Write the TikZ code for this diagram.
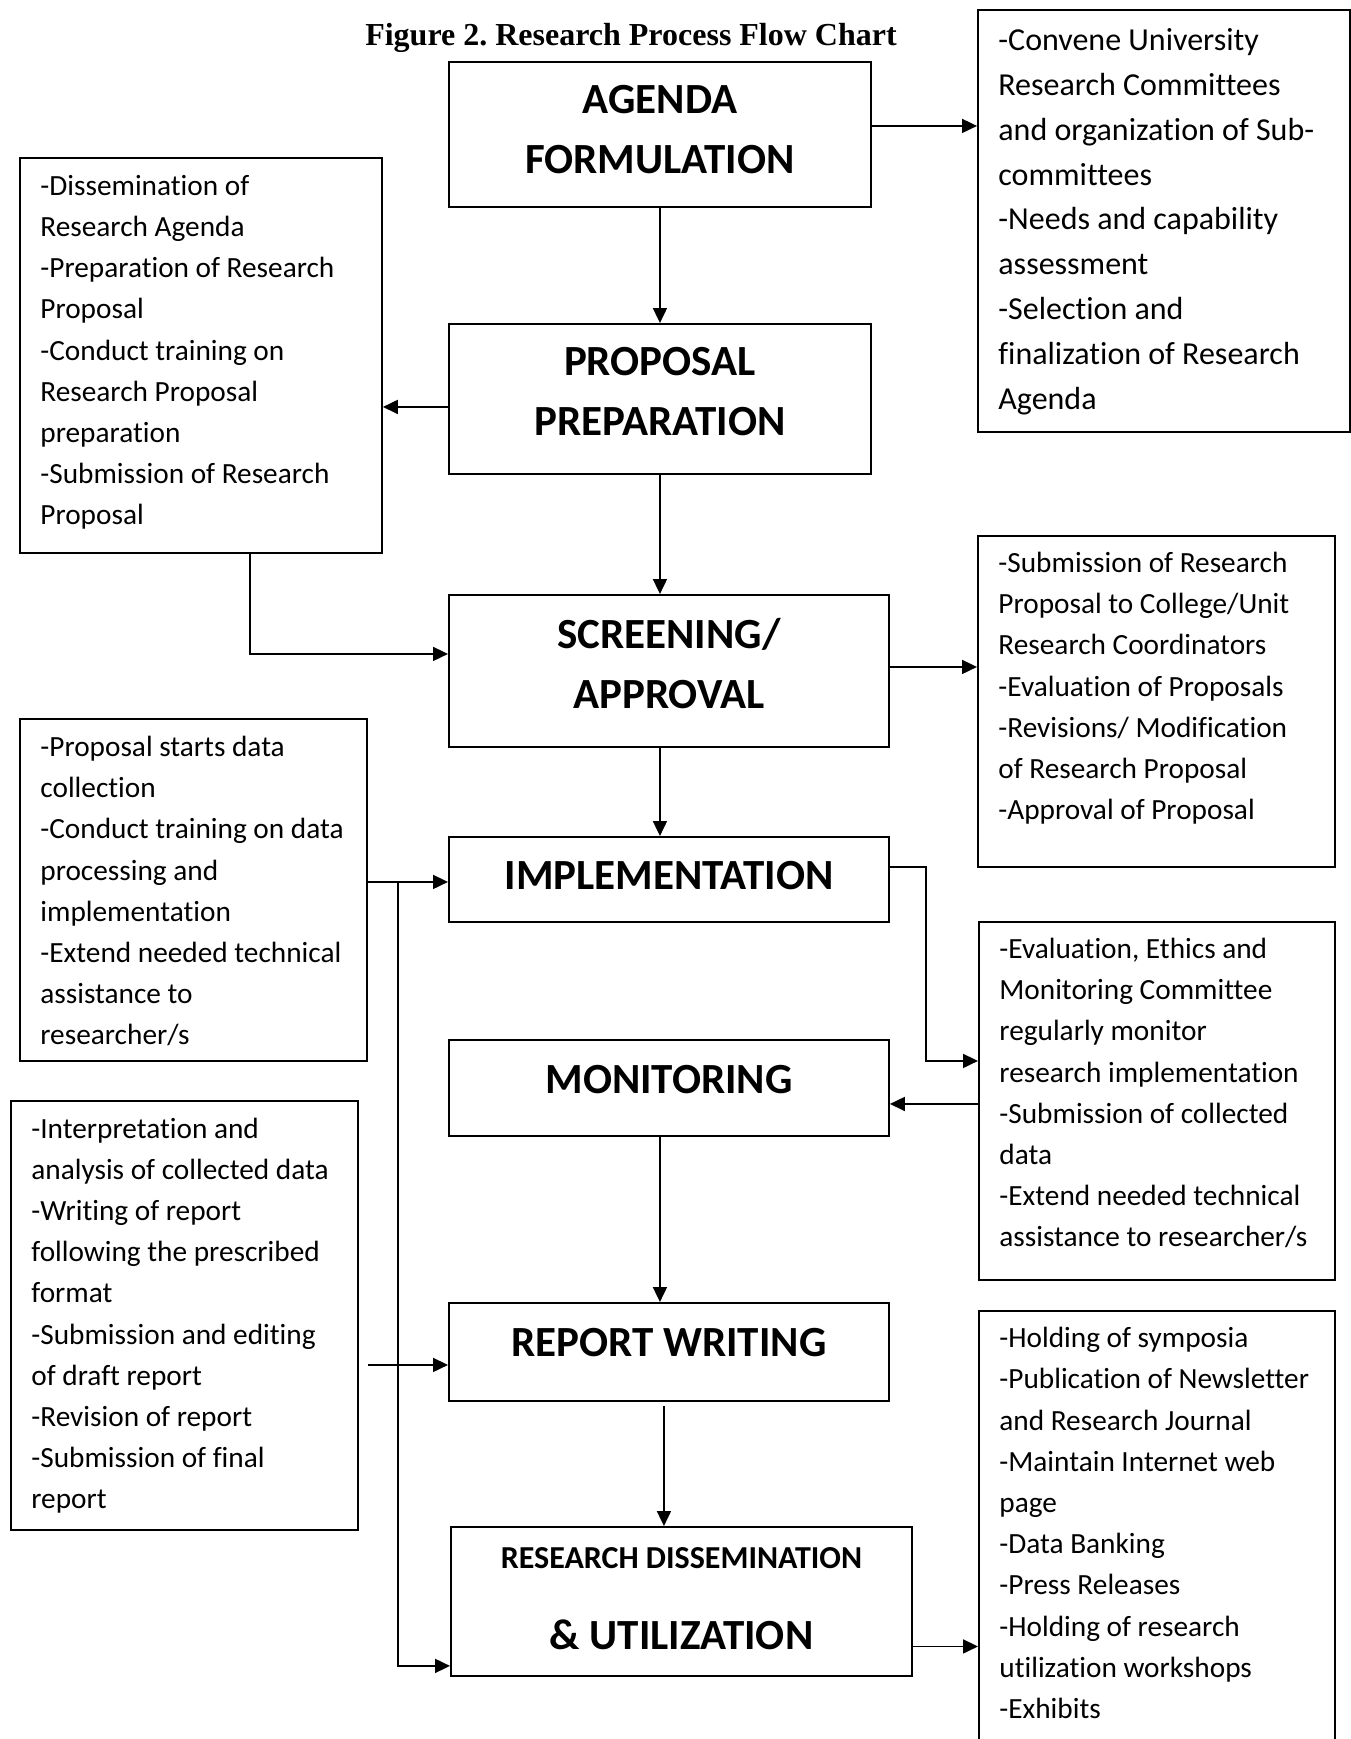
\documentclass[tikz,border=0pt]{standalone}
\usepackage{fontspec}
\setmainfont{Carlito}[Ligatures={NoCommon,NoRare}]
\newfontfamily\titlefont{Liberation Serif}
\usetikzlibrary{arrows.meta}
\newcommand{\lowpad}[1]{\rule[-#1pt]{0pt}{#1pt}}
\frenchspacing
\tikzset{
  every picture/.style={line width=1.8pt},
  stage/.style={draw, line width=1.9pt, align=center, inner sep=0pt, anchor=north west,
                font=\bfseries\fontsize{43}{60}\selectfont},
  side/.style={draw, line width=1.9pt, inner sep=0pt, anchor=north west},
  sidetext/.style={align=left, inner sep=0pt, anchor=north west},
  arrow/.style={-{Triangle[length=15pt, width=14pt]}, line width=1.8pt},
  title/.style={font=\titlefont\bfseries\fontsize{32}{38}\selectfont},
}

\begin{document}
\begin{tikzpicture}[x=1pt, y=-1pt]
  \useasboundingbox (0,0) rectangle (1351,1739);
  \clip (0,0) rectangle (1351,1739);
  \node[title] (title) at (631,38) {Figure 2. Research Process Flow Chart};
  % stages down the middle: name, corner, size, padding under the text
  \foreach \name/\x/\y/\w/\h/\pad/\txt in {
      agd/448/61/422/145/10/{AGENDA\\FORMULATION},
      prp/448/323/422/150/15/{PROPOSAL\\PREPARATION},
      scr/448/594/440/152/16/{SCREENING/\\APPROVAL},
      imp/448/836/440/85/9/{IMPLEMENTATION},
      mon/448/1039/440/96/18/{MONITORING},
      rep/448/1302/440/98/20/{REPORT WRITING},
      rdu/450/1526/461/149/6/{{\fontsize{32}{60}\selectfont RESEARCH DISSEMINATION}\\[21pt]\& UTILIZATION}} {
    \node[stage, minimum width=\w pt, minimum height=\h pt] (\name) at (\x,\y) {\txt\lowpad{\pad}};
  }
  % notes beside each stage
  \foreach \name/\x/\y/\w/\h/\fs/\ls/\dy/\txt in {
      agdnote/977/9/372/422/32/44.8/14.5/{-Convene University\\Research Committees\\and organization of Sub-\\committees\\-Needs and capability\\assessment\\-Selection and\\finalization of Research\\Agenda},
      prpnote/19/157/362/395/29.3/41.2/13.3/{-Dissemination of\\Research Agenda\\-Preparation of Research\\Proposal\\-Conduct training on\\Research Proposal\\preparation\\-Submission of Research\\Proposal},
      scrnote/977/535/357/331/29.3/41.2/12.5/{-Submission of Research\\Proposal to College/Unit\\Research Coordinators\\-Evaluation of Proposals\\-Revisions/ Modification\\of Research Proposal\\-Approval of Proposal},
      impnote/19/718/347/342/29.3/41.2/13.6/{-Proposal starts data\\collection\\-Conduct training on data\\processing and\\implementation\\-Extend needed technical\\assistance to\\researcher/s},
      monnote/978/921/356/358/29.3/41.2/12.5/{-Evaluation, Ethics and\\Monitoring Committee\\regularly monitor\\research implementation\\-Submission of collected\\data\\-Extend needed technical\\assistance to researcher/s},
      repnote/10/1100/347/429/29.3/41.2/13.2/{-Interpretation and\\analysis of collected data\\-Writing of report\\following the prescribed\\format\\-Submission and editing\\of draft report\\-Revision of report\\-Submission of final\\report},
      rdunote/978/1310/356/460/29.3/41.2/12.8/{-Holding of symposia\\-Publication of Newsletter\\and Research Journal\\-Maintain Internet web\\page\\-Data Banking\\-Press Releases\\-Holding of research\\utilization workshops\\-Exhibits}} {
    \node[side, minimum width=\w pt, minimum height=\h pt] (\name) at (\x,\y) {};
    \node[sidetext, font=\fontsize{\fs}{\ls}\selectfont] (\name txt)
      at ([xshift=20.5pt, yshift=-\dy pt]\name.north west) {\rule{0pt}{0.82em}\txt};
  }
  \draw[arrow] (agd) -- (prp);
  \draw[arrow] ([yshift=8.5pt]agd.east) -- ([yshift=8.5pt]agd.east -| agdnote.west);
  \draw[arrow] ([yshift=-8pt]prp.west) -- ([yshift=-8pt]prp.west -| prpnote.east);
  \draw[arrow] (prp.south) -- (prp.south |- scr.north);
  \draw[arrow] ([xshift=49pt]prpnote.south) |- ([yshift=17pt]scr.west);
  \draw[arrow] ([yshift=4pt]scr.east) -- ([yshift=4pt]scr.east -| scrnote.west);
  \draw[arrow] (scr.south -| agd.south) -- (imp.north -| agd.south);
  \draw[arrow] ([yshift=-2.5pt]imp.west -| impnote.east) -- ([yshift=-2.5pt]imp.west);
  \draw[arrow] ([xshift=-50pt, yshift=-2.5pt]imp.west) |- ([yshift=11pt]rdu.south west);
  \draw[arrow] ([yshift=12.5pt]imp.east) -- ++(36,0) |- ([yshift=40pt]monnote.west);
  \draw[arrow] ([yshift=-3pt]monnote.west) -- ([yshift=-3pt]monnote.west -| mon.east);
  \draw[arrow] (mon.south -| agd.south) -- (rep.north -| agd.south);
  \draw[arrow, shorten <=9pt] ([yshift=-13pt]rep.west -| repnote.east) -- ([yshift=-13pt]rep.west);
  \draw[arrow] ([xshift=-5pt, yshift=-4pt]rep.south) -- ([xshift=-5pt]rep.south |- rdu.north);
  \draw[arrow] ([yshift=-45pt]rdu.east) -- ([yshift=-45pt]rdu.east -| rdunote.west);
\end{tikzpicture}
\end{document}
